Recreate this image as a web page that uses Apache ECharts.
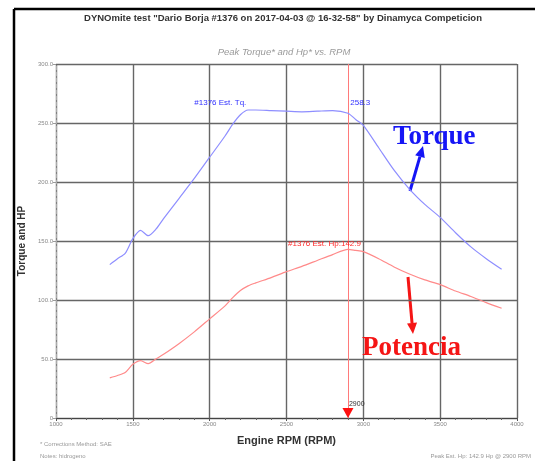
<!DOCTYPE html>
<html><head><meta charset="utf-8">
<script src="https://cdn.jsdelivr.net/npm/echarts@6/dist/echarts.min.js"></script>
<style>html,body{margin:0;padding:0;background:#fff}#c{width:535px;height:461px}</style>
</head><body><div id="c"></div>
<script>
// ---- data ----
const rpm = [1350,1400,1450,1500,1550,1600,1650,1700,1800,1900,2000,2100,2150,2200,2250,2300,2400,2500,2600,2700,2800,2900,2950,3000,3100,3200,3300,3400,3500,3600,3700,3800,3900];
const torque = [130,135,139.5,152,159,154.5,160,169,186,203,221,239,249,257,261,261,260.5,260,259.5,260,260.5,258.3,253,248,229,210,194,181,170,157,145,135,126];
const hp = [34,36,38.5,45.5,48.6,46,50,54,63,73,84,95,102,108,112,114.5,119,124,128.5,133.5,138.5,142.9,142,141,135,128,122,117,113,107.6,103,97.8,93];
const peakRpm = 2900, peakTq = 258.3, peakHp = 142.9;
const xMin = 1000, xMax = 4000, xStep = 500;
const yMin = 0, yMax = 300, yStep = 50;
const titleText = 'DYNOmite test "Dario Borja #1376 on 2017-04-03 @ 16-32-58" by Dinamyca Competicion';
const subTitle = 'Peak Torque* and Hp* vs. RPM';
const xName = 'Engine RPM (RPM)';
const yName = 'Torque and HP';
const tqLabel = '#1376 Est. Tq.';
const hpLabel = '#1376 Est. Hp:';
const note1 = '* Corrections Method: SAE';
const note2 = 'Notes: hidrogeno';
const note3 = 'Peak Est. Hp: 142.9 Hp @ 2900 RPM';

const chart = echarts.init(document.getElementById('c'), null, {renderer:'canvas'});
const sans = 'Liberation Sans, Arial, sans-serif';
const serif = 'Liberation Serif, Times New Roman, serif';

function arrow(x1,y1,x2,y2,color){
  const dx=x2-x1, dy=y2-y1, L=Math.hypot(dx,dy), ux=dx/L, uy=dy/L;
  const hl=11, hw=5;
  const bx=x2-ux*hl, by=y2-uy*hl;
  return [
    {type:'line', shape:{x1:x1,y1:y1,x2:bx,y2:by}, style:{stroke:color,lineWidth:3}},
    {type:'polygon', shape:{points:[[x2,y2],[bx-uy*hw,by+ux*hw],[bx+uy*hw,by-ux*hw]]}, style:{fill:color}}
  ];
}

const option = {
  animation:false,
  backgroundColor:'#fff',
  grid:{left:56, right:18, top:64, bottom:43, containLabel:false},
  xAxis:{
    type:'value', min:xMin, max:xMax, interval:xStep,
    name:xName, nameLocation:'middle', nameGap:17,
    nameTextStyle:{fontFamily:sans, fontSize:11, fontWeight:'bold', color:'#333'},
    axisLine:{show:true, lineStyle:{color:'#444', width:1}},
    axisTick:{show:true, length:3, lineStyle:{color:'#555'}},
    minorTick:{show:true, splitNumber:5, length:2, lineStyle:{color:'#666'}},
    axisLabel:{fontFamily:sans, fontSize:6, color:'#888', margin:3, formatter:v=>String(v)},
    splitLine:{show:true, lineStyle:{color:'#666', width:1.4}}
  },
  yAxis:{
    type:'value', min:yMin, max:yMax, interval:yStep,
    name:yName, nameLocation:'middle', nameGap:27,
    nameTextStyle:{fontFamily:sans, fontSize:10, fontWeight:'bold', color:'#333'},
    axisLine:{show:true, lineStyle:{color:'#aaa', width:1, type:'dashed'}},
    axisTick:{show:true, length:3, lineStyle:{color:'#999'}},
    axisLabel:{fontFamily:sans, fontSize:6, color:'#888', margin:3,
      formatter:v=> v===0 ? '0' : v.toFixed(1)},
    splitLine:{show:true, lineStyle:{color:'#666', width:1.4}}
  },
  series:[
    {
      type:'line', name:'Torque', data:rpm.map((r,i)=>[r,torque[i]]),
      showSymbol:false, smooth:0.25, z:5,
      lineStyle:{color:'#8e8eff', width:1.2},
      markPoint:{
        symbol:'circle', symbolSize:0, silent:true,
        label:{show:true, position:'right', distance:0, fontFamily:sans, fontSize:8, color:'#3030ff'},
        data:[
          {coord:[1900,267], label:{formatter:tqLabel}},
          {coord:[peakRpm+15,267], label:{formatter:String(peakTq)}}
        ]
      }
    },
    {
      type:'line', name:'Hp', data:rpm.map((r,i)=>[r,hp[i]]),
      showSymbol:false, smooth:0.25, z:5,
      lineStyle:{color:'#ff8a8a', width:1.2},
      markLine:{
        silent:true, symbol:'none', label:{show:false},
        lineStyle:{color:'#ff7a7a', width:1, type:'solid'},
        data:[{xAxis:peakRpm}]
      },
      markPoint:{
        silent:true,
        data:[
          {coord:[2510,147.5], symbol:'circle', symbolSize:0,
            label:{show:true, position:'right', distance:0, fontFamily:sans, fontSize:8, color:'#ff2a2a', formatter:hpLabel+peakHp}},
          {coord:[peakRpm,0], symbol:'triangle', symbolRotate:180, symbolSize:[11,10], symbolOffset:[0,-5],
            itemStyle:{color:'#ff1010'}, label:{show:false}},
          {coord:[peakRpm,12], symbol:'circle', symbolSize:0,
            label:{show:true, position:'right', distance:1, fontFamily:sans, fontSize:7, color:'#333', formatter:String(peakRpm)}}
        ]
      }
    }
  ],
  graphic:[
    {type:'line', shape:{x1:14,y1:9,x2:535,y2:9}, style:{stroke:'#000', lineWidth:2.5}},
    {type:'line', shape:{x1:14,y1:9,x2:14,y2:461}, style:{stroke:'#000', lineWidth:2.5}},
    {type:'text', x:283, y:18, style:{text:titleText, font:'bold 9.5px '+sans, fill:'#333', align:'center', verticalAlign:'middle'}},
    {type:'text', x:284, y:52, style:{text:subTitle, font:'italic 9.5px '+sans, fill:'#9a9a9a', align:'center', verticalAlign:'middle'}},
    {type:'text', x:40, y:444, style:{text:note1, font:'6px '+sans, fill:'#999', align:'left', verticalAlign:'middle'}},
    {type:'text', x:40, y:456, style:{text:note2, font:'6px '+sans, fill:'#999', align:'left', verticalAlign:'middle'}},
    {type:'text', x:531, y:456, style:{text:note3, font:'6px '+sans, fill:'#999', align:'right', verticalAlign:'middle'}},
    {type:'text', x:393, y:137, z:10, style:{text:'Torque', font:'bold 27px '+serif, fill:'#1515f5', align:'left', verticalAlign:'middle'}},
    {type:'text', x:362, y:348, z:10, style:{text:'Potencia', font:'bold 27px '+serif, fill:'#f51515', align:'left', verticalAlign:'middle'}},
    ...arrow(410,191,423,146,'#1515f5'),
    ...arrow(408,277,413,334,'#f51515')
  ]
};
chart.setOption(option);
</script></body></html>
